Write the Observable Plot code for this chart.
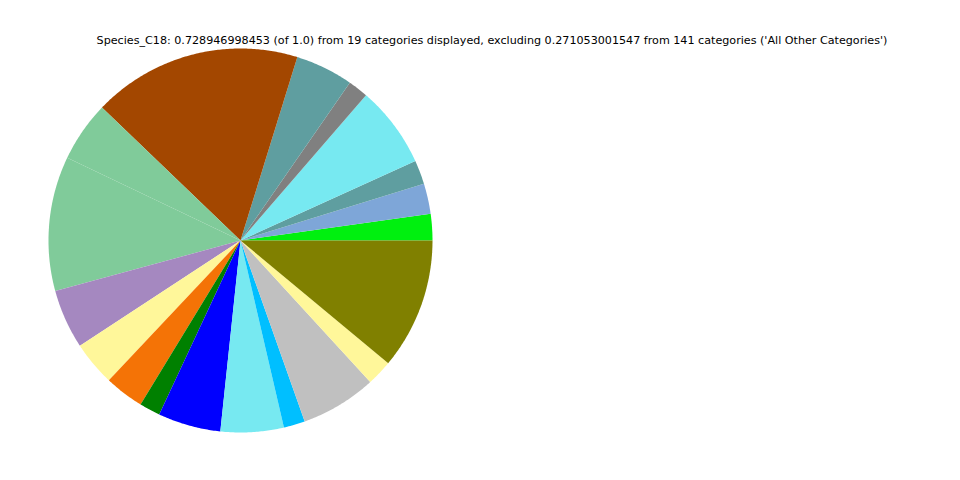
<!DOCTYPE html>
<html>
<head>
<meta charset="utf-8">
<script src="https://cdn.jsdelivr.net/npm/d3@7"></script>
<script src="https://cdn.jsdelivr.net/npm/@observablehq/plot@0.6"></script>
<style>
  html, body { margin: 0; padding: 0; background: #fff; }
  #wrap { position: relative; width: 960px; height: 480px; }
  #title { position: absolute; top: 34px; left: 492px; transform: translateX(-50%);
           white-space: nowrap; font-family: "DejaVu Sans", sans-serif; font-size: 11.15px; color: #000; }
</style>
</head>
<body>
<div id="wrap">
  <div id="chart"></div>
  <div id="title"></div>
</div>
<script>
const titleText = "Species_C18: 0.728946998453 (of 1.0) from 19 categories displayed, excluding 0.271053001547 from 141 categories ('All Other Categories')";

const categories = [
  "Category 1", "Category 2", "Category 3", "Category 4", "Category 5",
  "Category 6", "Category 7", "Category 8", "Category 9", "Category 10",
  "Category 11", "Category 12", "Category 13", "Category 14", "Category 15",
  "Category 16", "Category 17", "Category 18", "Category 19"
];
const values = [
  0.0162, 0.0186, 0.0147, 0.0501, 0.0124,
  0.0354, 0.1284, 0.0371, 0.0826, 0.0364,
  0.0273, 0.0241, 0.0128, 0.0385, 0.0387,
  0.0131, 0.0465, 0.0158, 0.0804
];
const colors = [
  "#00f00f", "#7ea6d8", "#5f9ea0", "#77e9f1", "#808080",
  "#5f9ea0", "#a34700", "#80cb9a", "#80cb9a", "#a588c0",
  "#fff79a", "#f47306", "#008000", "#0000ff", "#77e9f1",
  "#00bfff", "#c0c0c0", "#fff79a", "#808000"
];

document.getElementById("title").textContent = titleText;

// Build slice outlines (counter-clockwise from angle 0, like matplotlib's pie)
const total = d3.sum(values);
const pts = [];
let cum = 0;
values.forEach((v, i) => {
  const a0 = cum / total * 2 * Math.PI;
  cum += v;
  const a1 = cum / total * 2 * Math.PI;
  const n = Math.max(2, Math.ceil((a1 - a0) / (Math.PI / 360)));
  pts.push({cat: categories[i], color: colors[i], x: 0, y: 0});
  for (let k = 0; k <= n; k++) {
    const a = a0 + (a1 - a0) * k / n;
    pts.push({cat: categories[i], color: colors[i], x: Math.cos(a), y: Math.sin(a)});
  }
  pts.push({cat: categories[i], color: colors[i], x: 0, y: 0});
});

const chart = Plot.plot({
  width: 960,
  height: 480,
  marginLeft: 48,
  marginRight: 528,
  marginTop: 48,
  marginBottom: 48,
  x: {domain: [-1, 1], axis: null},
  y: {domain: [-1, 1], axis: null},
  color: {type: "identity"},
  marks: [
    Plot.line(pts, {x: "x", y: "y", z: "cat", fill: "color", stroke: "none", curve: "linear"})
  ]
});
document.getElementById("chart").appendChild(chart);
</script>
</body>
</html>
